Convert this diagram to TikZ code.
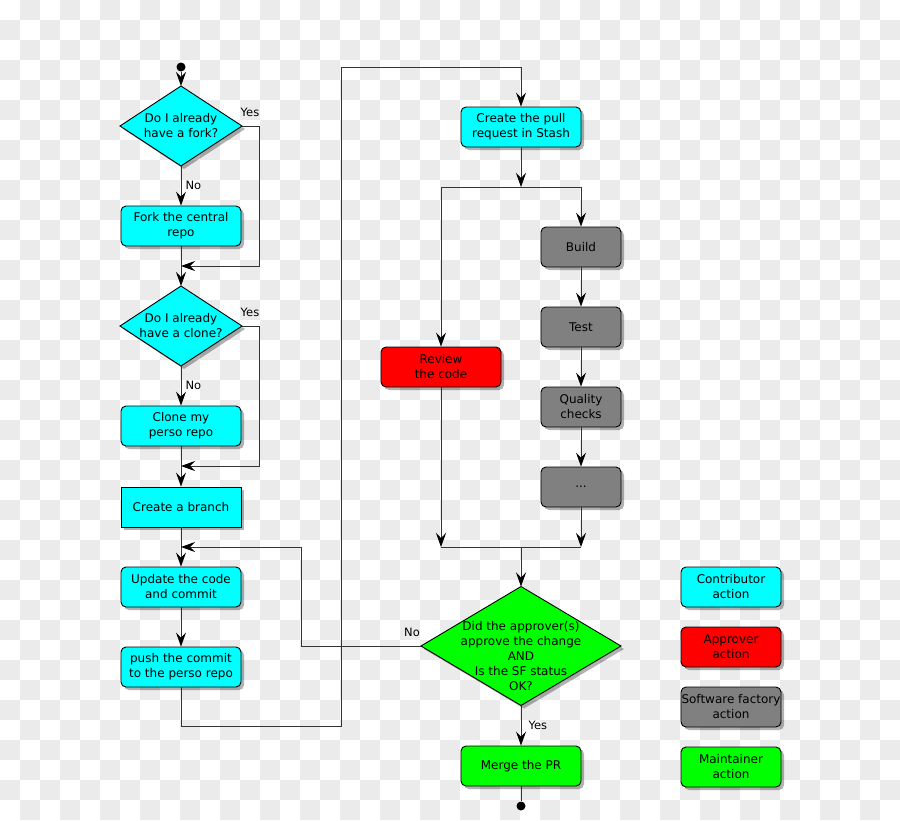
\documentclass[tikz,border=0pt]{standalone}
\usepackage{fontspec}
\setmainfont{DejaVu Sans}
\usetikzlibrary{shapes.geometric,arrows.meta,shadows}
\definecolor{checkgrey}{HTML}{EBEBEB}
\definecolor{linegrey}{HTML}{333333}
\definecolor{ccyan}{HTML}{00FFFF}
\definecolor{cred}{HTML}{FF0000}
\definecolor{cgreen}{HTML}{00FF00}
\definecolor{cgrey}{HTML}{808080}
\begin{document}
\begin{tikzpicture}[x=1pt,y=-1pt,
  font=\fontsize{12}{15}\selectfont,
  shad/.style={drop shadow={shadow xshift=3pt,shadow yshift=-3pt,opacity=0.3,fill=black}},
  box/.style={draw=black,line width=0.9pt,rounded corners=5pt,minimum width=120pt,minimum height=40pt,align=center,inner sep=0pt,shad},
  sqbox/.style={box,rounded corners=0pt},
  cbox/.style={box,fill=ccyan},
  rbox/.style={box,fill=cred},
  gbox/.style={box,fill=cgrey,minimum width=80pt},
  mbox/.style={box,fill=cgreen},
  lbox/.style={box,minimum width=100pt},
  qd/.style={diamond,draw=black,line width=0.9pt,inner sep=0pt,outer sep=0pt,shad},
  arr/.style={draw=linegrey,line width=1pt,-{Stealth[length=14pt,width=10pt,inset=5pt,color=black]}},
  ln/.style={draw=linegrey,line width=1pt},
  dot/.style={circle,fill=black,inner sep=0pt,minimum size=9pt},
  lab/.style={font=\fontsize{11.5}{13}\selectfont,inner sep=1pt}]
\useasboundingbox (0,0) rectangle (900,820);
\fill[white] (0,0) rectangle (900,820);
\foreach \i in {0,2,...,44} \foreach \j in {1,3,...,39} \fill[checkgrey] (20*\i,20*\j) rectangle +(20,20);
\foreach \i in {1,3,...,43} \foreach \j in {0,2,...,40} \fill[checkgrey] (20*\i,20*\j) rectangle +(20,20);

% left column
\node[dot] (start) at (181,67) {};
\node[qd,fill=ccyan,minimum width=122pt,minimum height=80pt,label={[align=center]center:Do I already\\have a fork?}] (d1) at (181,126) {};
\node[cbox] (fork) at (181,226) {Fork the central\\repo};
\node[qd,fill=ccyan,minimum width=122pt,minimum height=80pt,label={[align=center]center:Do I already\\have a clone?}] (d2) at (181,326) {};
\node[cbox] (clone) at (181,426) {Clone my\\perso repo};
\node[sqbox,fill=ccyan] (branch) at (181,507) {Create a branch};
\node[cbox] (update) at (181,587) {Update the code\\and commit};
\node[cbox] (push) at (181,667) {push the commit\\to the perso repo};

% right part
\node[cbox] (pr) at (521,127) {Create the pull\\request in Stash};
\node[gbox] (build) at (581,247) {Build};
\node[gbox] (test) at (581,327) {Test};
\node[gbox] (qc) at (581,407) {Quality\\checks};
\node[gbox] (more) at (581,487) {...};
\node[rbox] (review) at (441,367) {Review\\the code};
\node[qd,fill=cgreen,minimum width=200pt,minimum height=119pt,label={[align=center,yshift=-10pt]center:Did the approver(s)\\approve the change\\AND\\Is the SF status\\OK?}] (d3) at (521,646) {};
\node[mbox] (merge) at (521,766) {Merge the PR};
\node[dot] (end) at (521,806) {};

% legend
\node[lbox,fill=ccyan] (lc) at (731,587) {Contributor\\action};
\node[lbox,fill=cred] (la) at (731,647) {Approver\\action};
\node[lbox,fill=cgrey] (ls) at (731,707) {Software factory\\action};
\node[lbox,fill=cgreen] (lm) at (731,767) {Maintainer\\action};

% coordinates
\coordinate (m1) at (181,266);
\coordinate (m2) at (181,466);
\coordinate (m3) at (181,547);
\coordinate (top) at (341,67);
\coordinate (split) at (521,187);
\coordinate (jl) at (441,547);
\coordinate (jr) at (581,547);
\coordinate (join) at (521,547);

% connectors
\draw[arr] (start) -- (d1.north);
\draw[arr] (d1.south) -- node[lab,right,pos=0.5,xshift=3pt]{No} (fork.north);
\draw[arr] (d1.east) -- ++(17,0) |- (m1);
\draw[arr] (fork.south) -- (d2.north);
\draw[arr] (d2.south) -- node[lab,right,pos=0.5,xshift=3pt]{No} (clone.north);
\draw[arr] (d2.east) -- ++(17,0) |- (m2);
\draw[arr] (clone.south) -- (branch.north);
\draw[arr] (branch.south) -- (update.north);
\draw[arr] (update.south) -- (push.north);
\draw[arr] (d3.west) -- ++(-120,0) |- (m3);
\draw[arr] (push.south) -- ++(0,39) -| (top) -| (pr.north);
\draw[arr] (pr.south) -- (split);
\draw[arr] (split) -| (review.north);
\draw[arr] (split) -| (build.north);
\draw[arr] (build.south) -- (test.north);
\draw[arr] (test.south) -- (qc.north);
\draw[arr] (qc.south) -- (more.north);
\draw[arr] (review.south) -- (jl);
\draw[arr] (more.south) -- (jr);
\draw[ln] (jl) -- (jr);
\draw[arr] (join) -- (d3.north);
\draw[arr] (d3.south) -- node[lab,right,pos=0.5,xshift=6pt]{Yes} (merge.north);
\draw[ln] (merge.south) -- (end);

% labels
\node[lab] (y1) at (250,112) {Yes};
\node[lab] (y2) at (250,312) {Yes};
\node[lab] (n3) at (412,632) {No};
\end{tikzpicture}
\end{document}
